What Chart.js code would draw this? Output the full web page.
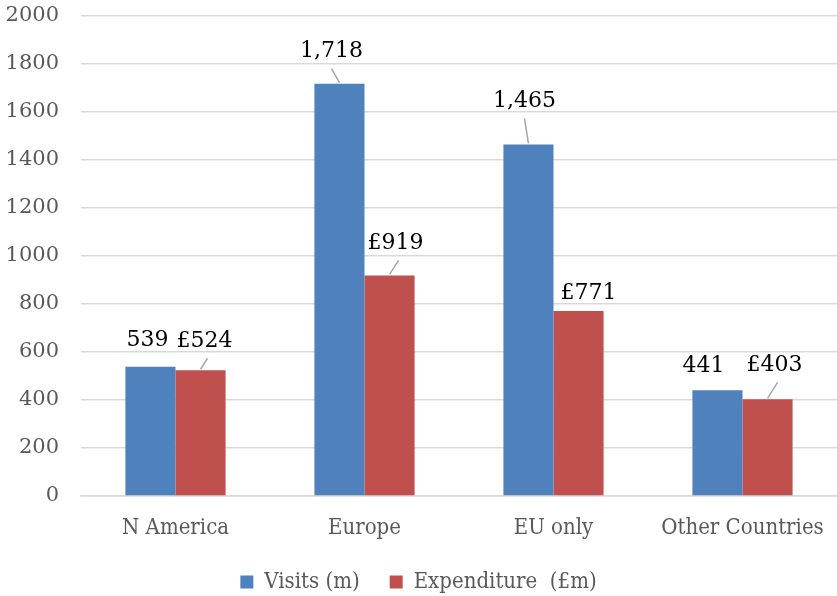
<!DOCTYPE html>
<html>
<head>
<meta charset="utf-8">
<script src="https://cdn.jsdelivr.net/npm/chart.js@4"></script>
<style>
  html, body { margin: 0; padding: 0; background: #fff; }
  #wrap { width: 837px; height: 596px; }
</style>
</head>
<body>
<div id="wrap"><canvas id="myChart" width="837" height="596"></canvas></div>
<script>
const regions = ['N America', 'Europe', 'EU only', 'Other Countries'];
const visits = [539, 1718, 1465, 441];
const expenditure = [524, 919, 771, 403];
const yTicks = [0, 200, 400, 600, 800, 1000, 1200, 1400, 1600, 1800, 2000];

const serif = "'DejaVu Serif', 'Liberation Serif', serif";
const serifNarrow = "'DejaVu Serif Condensed', 'DejaVu Serif', serif";

// label placement relative to bar top: [dx, dy, leader line?]
const labelPlacement = [
  [[-3, -26, false], [-8, -32, true], [-4, -43, true], [-14, -24, false]],
  [[4, -29, true], [6, -32, true], [10, -18, false], [7, -34, true]]
];

const valueLabels = {
  id: 'valueLabels',
  afterDatasetsDraw(chart) {
    const ctx = chart.ctx;
    ctx.save();
    ctx.font = '22px ' + serif;
    ctx.fillStyle = '#000';
    ctx.textAlign = 'center';
    ctx.textBaseline = 'middle';
    chart.data.datasets.forEach((ds, i) => {
      const meta = chart.getDatasetMeta(i);
      meta.data.forEach((bar, j) => {
        const v = ds.data[j];
        const txt = i === 0 ? v.toLocaleString('en-GB') : '£' + v;
        const p = labelPlacement[i][j];
        const lx = bar.x + p[0];
        const ly = bar.y + p[1];
        ctx.fillText(txt, lx, ly);
        if (p[2]) {
          ctx.strokeStyle = '#A6A6A6';
          ctx.lineWidth = 1.5;
          ctx.beginPath();
          ctx.moveTo(lx + (p[0] < 0 ? 0 : 3), ly + 17);
          ctx.lineTo(bar.x, bar.y - 1);
          ctx.stroke();
        }
      });
    });
    ctx.restore();
  }
};

const ctx = document.getElementById('myChart').getContext('2d');
const myChart = new Chart(ctx, {
  type: 'bar',
  data: {
    labels: regions,
    datasets: [
      {
        label: 'Visits (m)',
        data: visits,
        backgroundColor: '#4F81BD',
        categoryPercentage: 0.53,
        barPercentage: 1.0
      },
      {
        label: 'Expenditure  (£m)',
        data: expenditure,
        backgroundColor: '#C0504D',
        categoryPercentage: 0.53,
        barPercentage: 1.0
      }
    ]
  },
  options: {
    responsive: false,
    animation: false,
    layout: { padding: { top: 16, right: 0, bottom: -7, left: 0 } },
    plugins: {
      tooltip: { enabled: false },
      legend: {
        position: 'bottom',
        labels: {
          color: '#595959',
          font: { family: serifNarrow, size: 22 },
          boxWidth: 13,
          boxHeight: 13,
          padding: 30
        }
      }
    },
    scales: {
      x: {
        grid: { display: false },
        border: { color: '#D9D9D9', width: 1.5 },
        ticks: {
          color: '#595959',
          font: { family: serifNarrow, size: 22 },
          padding: 11
        },
        afterFit(scale) { scale.height = 45; }
      },
      y: {
        min: 0,
        max: 2000,
        afterBuildTicks(scale) { scale.ticks = yTicks.map(v => ({ value: v })); },
        grid: { color: '#D9D9D9', lineWidth: 1.5, drawTicks: false },
        border: { display: false },
        ticks: {
          color: '#595959',
          font: { family: serif, size: 21 },
          padding: 22,
          callback: v => String(v)
        },
        afterFit(scale) {
          scale.width = 81;
          scale.paddingTop = 0;
          scale.paddingBottom = 0;
        }
      }
    }
  },
  plugins: [valueLabels]
});
</script>
</body>
</html>
